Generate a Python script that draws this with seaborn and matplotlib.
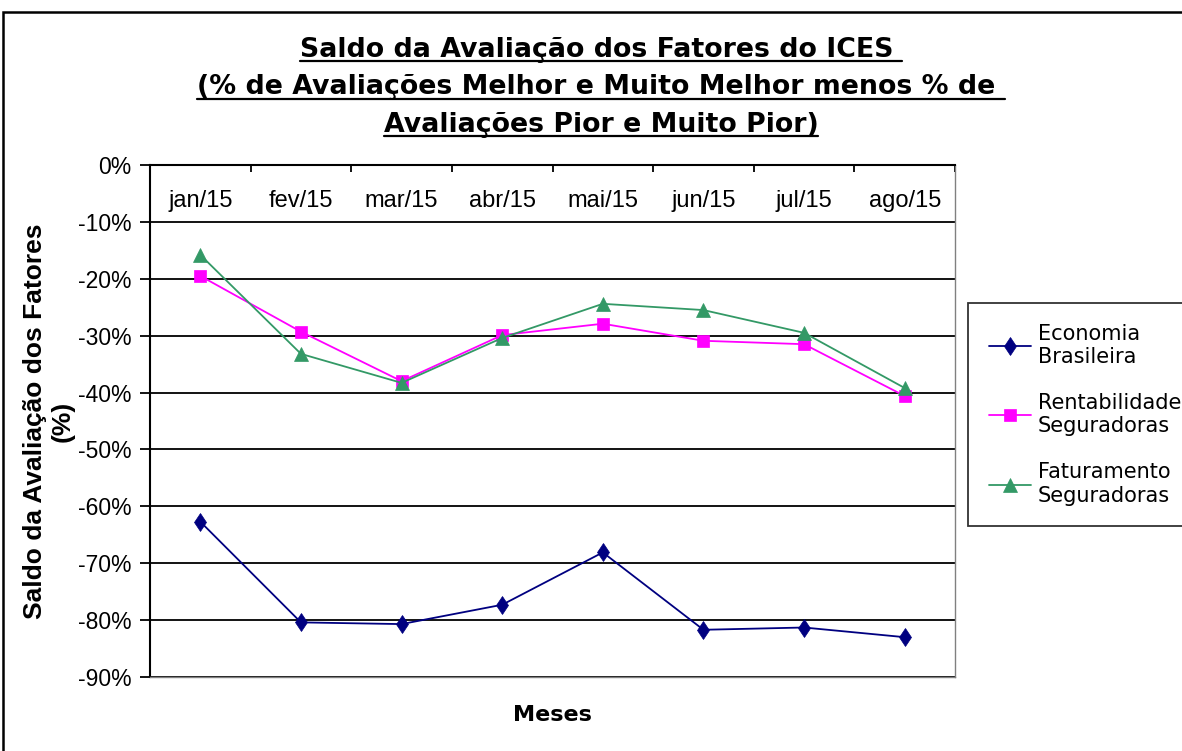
import matplotlib
matplotlib.use("Agg")
import matplotlib.pyplot as plt
from matplotlib.lines import Line2D
from matplotlib.patches import Rectangle
import pandas as pd
import seaborn as sns

# data
months = ["jan/15", "fev/15", "mar/15", "abr/15", "mai/15", "jun/15", "jul/15", "ago/15"]
economia = [-62.7, -80.4, -80.7, -77.3, -68.1, -81.7, -81.3, -83.0]
rentabilidade = [-19.5, -29.3, -38.0, -29.9, -27.9, -30.9, -31.5, -40.6]
faturamento = [-15.8, -33.2, -38.3, -30.4, -24.4, -25.5, -29.5, -39.2]

series_names = ["Economia\nBrasileira", "Rentabilidade\nSeguradoras", "Faturamento\nSeguradoras"]
series_colors = ["#000080", "#FF00FF", "#339966"]
series_markers = ["d", "s", "^"]
marker_sizes = [9.5, 8.5, 9.5]

y_ticks = [0, -10, -20, -30, -40, -50, -60, -70, -80, -90]
y_ticklabels = ["0%", "-10%", "-20%", "-30%", "-40%", "-50%", "-60%", "-70%", "-80%", "-90%"]

title_lines = [
    "Saldo da Avaliação dos Fatores do ICES ",
    "(% de Avaliações Melhor e Muito Melhor menos % de ",
    "Avaliações Pior e Muito Pior)",
]

rows = []
for name, vals in zip(series_names, [economia, rentabilidade, faturamento]):
    for i, v in enumerate(vals):
        rows.append({"pos": i, "mes": months[i], "valor": v, "serie": name})
df = pd.DataFrame(rows)

sns.set_theme(style="white")
plt.rcParams["font.family"] = ["DejaVu Sans"]
plt.rcParams["axes.unicode_minus"] = False
for key in ["text.color", "axes.labelcolor", "xtick.color", "ytick.color"]:
    plt.rcParams[key] = "black"

arial = ["Liberation Sans", "DejaVu Sans"]

fig = plt.figure(figsize=(11.82, 7.51), dpi=100)
ax = fig.add_axes([150 / 1182, 1 - 677 / 751, 805 / 1182, 512 / 751])

sns.lineplot(
    data=df, x="pos", y="valor", hue="serie", style="serie",
    hue_order=series_names, style_order=series_names,
    palette=dict(zip(series_names, series_colors)),
    markers=dict(zip(series_names, series_markers)),
    dashes=False, linewidth=1.3, markeredgewidth=0.5,
    legend=False, ax=ax,
)
for ln, ms, c in zip(ax.lines, marker_sizes, series_colors):
    ln.set_markersize(ms)
    ln.set_markeredgecolor(c)

ax.set_xlim(-0.5, len(months) - 0.5)
ax.set_ylim(-90, 0)

# y axis
ax.set_yticks(y_ticks)
ax.set_yticklabels(y_ticklabels, fontsize=16.5, family=arial)
ax.tick_params(axis="y", direction="out", length=7, width=1.3, color="black", left=True, pad=6.5)
ax.yaxis.grid(True, color="black", linewidth=1.3)
ax.set_axisbelow(True)

# x axis: categories on top, labels drawn inside the plot
ax.xaxis.tick_top()
ax.set_xticks(range(len(months)))
ax.set_xticklabels(months, fontsize=17, family=arial)
ax.tick_params(axis="x", which="major", length=0, pad=-34)
ax.set_xticks([i - 0.5 for i in range(len(months) + 1)], minor=True)
ax.tick_params(axis="x", which="minor", top=True, direction="in", length=5, width=1.3, color="black")
ax.set_xlabel("")

for side in ["left", "top"]:
    ax.spines[side].set_color("black")
    ax.spines[side].set_linewidth(1.5)
for side in ["right", "bottom"]:
    ax.spines[side].set_color("#808080")
    ax.spines[side].set_linewidth(1.0)

ax.set_ylabel("Saldo da Avaliação dos Fatores\n(%)", fontsize=19, fontweight="bold",
              family=arial, labelpad=2, linespacing=1.2)
fig.text((150 + 955) / 2 / 1182, 1 - 715 / 751, "Meses", ha="center", va="center",
         fontsize=16, fontweight="bold")

# legend
leg = ax.legend(
    handles=ax.lines[:3], labels=series_names,
    loc="upper left", bbox_to_anchor=(968 / 1182, 1 - 303 / 751),
    bbox_transform=fig.transFigure, fontsize=15, frameon=True, fancybox=False,
    handlelength=2.0, handletextpad=0.35, labelspacing=1.25, borderpad=1.0,
    borderaxespad=0,
)
leg.get_frame().set_edgecolor("black")
leg.get_frame().set_linewidth(1.3)

# title lines, underlined
title_texts = []
for k, line in enumerate(title_lines):
    t = fig.text(601 / 1182, 1 - (50 + 37.5 * k) / 751, line, ha="center", va="center",
                 fontsize=19.3, fontweight="bold")
    title_texts.append(t)

fig.canvas.draw()
renderer = fig.canvas.get_renderer()
inv = fig.transFigure.inverted()
for t in title_texts:
    bb = t.get_window_extent(renderer)
    (x0, y0), (x1, _) = inv.transform([(bb.x0, bb.y0 + 2), (bb.x1, bb.y0 + 2)])
    fig.add_artist(Line2D([x0, x1], [y0, y0], transform=fig.transFigure, color="black", linewidth=1.6))

# outer chart frame
fig.add_artist(Rectangle((3 / 1182, -0.1), 2, 1 - 12 / 751 + 0.1, transform=fig.transFigure,
                         fill=False, edgecolor="black", linewidth=1.8))

fig.savefig("out.png", dpi=100)
